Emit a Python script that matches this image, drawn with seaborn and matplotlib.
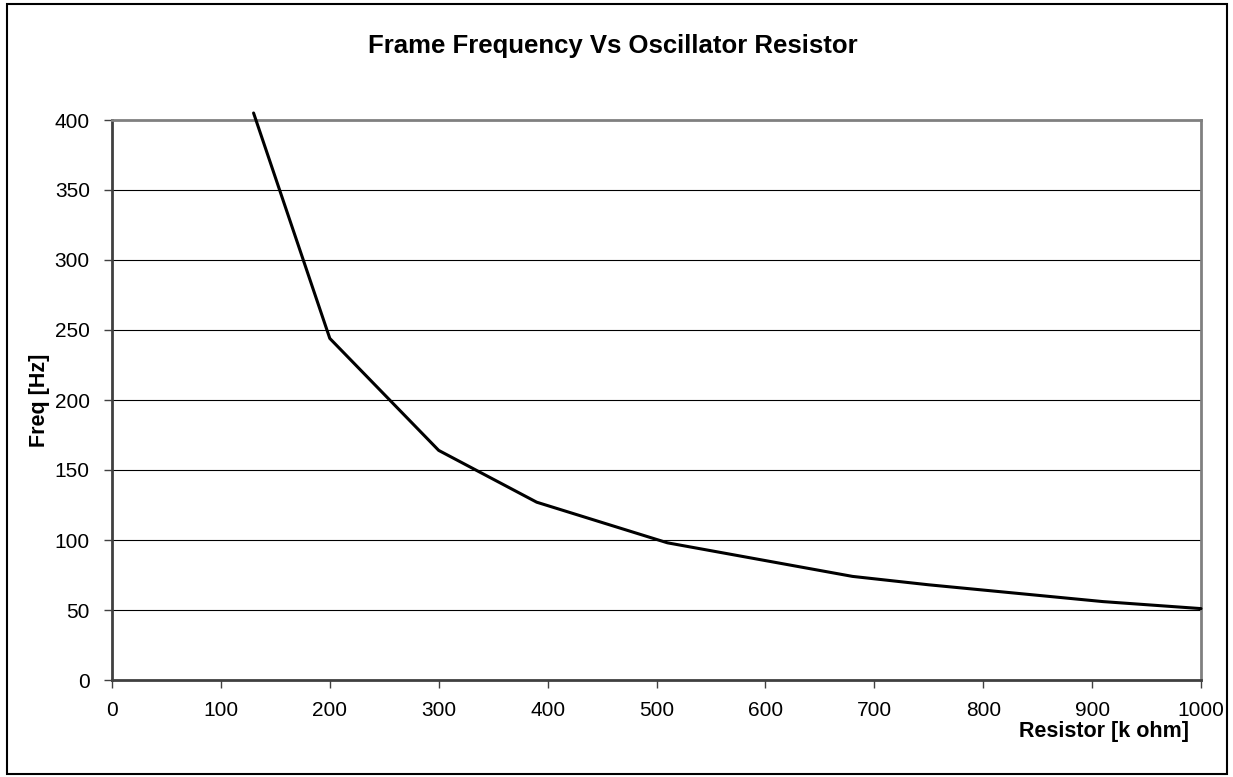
import pandas as pd
import matplotlib
matplotlib.use('Agg')
import matplotlib.pyplot as plt
import matplotlib.patches as mpatches
import seaborn as sns

# data
resistor_kohm = [130, 200, 300, 390, 510, 680, 750, 910, 1000]
freq_hz = [405, 244, 164, 127, 98, 74, 68, 56, 51]

df = pd.DataFrame({'Resistor': resistor_kohm, 'Freq': freq_hz})

sns.set_style('white')
plt.rcParams['font.family'] = ['Liberation Sans', 'DejaVu Sans']
plt.rcParams['text.color'] = 'black'
plt.rcParams['xtick.color'] = 'black'
plt.rcParams['ytick.color'] = 'black'

fig = plt.figure(figsize=(12.33, 7.77), dpi=100)
ax = fig.add_axes([112 / 1233, 1 - 680 / 777, (1201 - 112) / 1233, (680 - 120) / 777])

# excel-like horizontal gridlines
for yv in range(50, 400, 50):
    ax.axhline(yv, color='black', linewidth=0.8, zorder=1)

sns.lineplot(data=df, x='Resistor', y='Freq', ax=ax, color='black',
             linewidth=2.2, estimator=None, sort=False, zorder=3)
for ln in ax.lines:
    ln.set_clip_on(False)

ax.set_xlim(0, 1000)
ax.set_ylim(0, 400)
ax.set_xticks(range(0, 1001, 100))
ax.set_yticks(range(0, 401, 50))
ax.tick_params(axis='both', which='major', labelsize=15, length=6, width=1,
               direction='out', color='#404040', bottom=True, left=True)
ax.tick_params(axis='y', pad=10)
ax.tick_params(axis='x', pad=9)

for side in ['left', 'bottom']:
    ax.spines[side].set_color('#404040')
    ax.spines[side].set_linewidth(2)
for side in ['top', 'right']:
    ax.spines[side].set_color('#808080')
    ax.spines[side].set_linewidth(2)

ax.set_xlabel('')
ax.set_ylabel('')
fig.text(39 / 1233, 1 - 400 / 777, 'Freq [Hz]', rotation=90, ha='center', va='center',
         fontsize=15.5, fontweight='bold')
fig.text(1189 / 1233, 1 - 731 / 777, 'Resistor [k ohm]', ha='right', va='center',
         fontsize=15.5, fontweight='bold')
fig.text(613 / 1233, 1 - 46 / 777, 'Frame Frequency Vs Oscillator Resistor',
         ha='center', va='center', fontsize=18.5, fontweight='bold')

# chart frame
fig.patches.append(mpatches.Rectangle((7 / 1233, 3 / 777), (1227 - 7) / 1233, (773 - 3) / 777,
                                      transform=fig.transFigure, fill=False,
                                      edgecolor='black', linewidth=1.5))

fig.savefig('out.png', dpi=100)
